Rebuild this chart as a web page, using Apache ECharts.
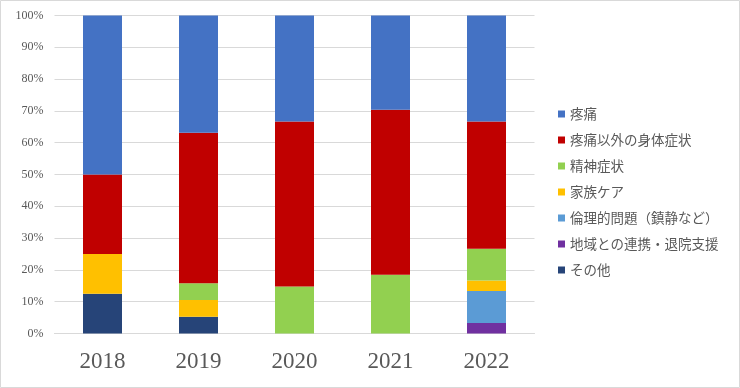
<!DOCTYPE html>
<html><head><meta charset="utf-8">
<script src="https://cdn.jsdelivr.net/npm/echarts@6/dist/echarts.min.js"></script>
<style>html,body{margin:0;padding:0;background:#fff}#c{width:740px;height:388px}</style>
</head><body><div id="c"></div>
<script>
const categories = ['2018','2019','2020','2021','2022'];
const seriesNames = ['疼痛','疼痛以外の身体症状','精神症状','家族ケア','倫理的問題（鎮静など）','地域との連携・退院支援','その他'];
// values in % (bottom of stack = その他)
const sonota   = [12.5, 5.26, 0, 0, 0];
const chiiki   = [0, 0, 0, 0, 3.33];
const rinri    = [0, 0, 0, 0, 10.0];
const kazoku   = [12.5, 5.26, 0, 0, 3.33];
const seishin  = [0, 5.26, 14.8, 18.5, 10.0];
const shintai  = [25.0, 47.37, 51.9, 51.9, 40.0];
const toutsuu  = [50.0, 36.85, 33.3, 29.6, 33.34];
const yTicks = [0,10,20,30,40,50,60,70,80,90,100];

const stackData = [
  ['その他', sonota, '#264478'],
  ['地域との連携・退院支援', chiiki, '#7030A0'],
  ['倫理的問題（鎮静など）', rinri, '#5B9BD5'],
  ['家族ケア', kazoku, '#FFC000'],
  ['精神症状', seishin, '#92D050'],
  ['疼痛以外の身体症状', shintai, '#C00000'],
  ['疼痛', toutsuu, '#4472C4']
];

const chart = echarts.init(document.getElementById('c'), null, {renderer:'canvas'});
chart.setOption({
  animation: false,
  graphic: [{type:'rect', shape:{x:0.5,y:0.5,width:739,height:387}, style:{fill:'none', stroke:'#d9d9d9', lineWidth:1}, silent:true}],
  grid: {left:54.5, right:205.5, top:15.5, bottom:54.5, containLabel:false},
  legend: {
    orient:'vertical', left:558, top:107, padding:0,
    data: seriesNames,
    icon:'rect', itemWidth:7, itemHeight:7, itemGap:12,
    textStyle:{fontSize:13.5, color:'#595959', lineHeight:14, fontFamily:'"Noto Sans CJK JP", sans-serif'}
  },
  xAxis: {
    type:'category', data: categories,
    axisLine:{lineStyle:{color:'#d9d9d9'}}, axisTick:{show:false},
    axisLabel:{fontSize:23, color:'#595959', fontFamily:'"Liberation Serif", serif', margin:17}
  },
  yAxis: {
    type:'value', min:0, max:100, interval:10,
    axisLabel:{formatter: v => yTicks.includes(v) ? v + '%' : '', fontSize:12, color:'#595959', fontFamily:'"Liberation Serif", serif', margin:11},
    splitLine:{lineStyle:{color:'#d9d9d9'}}, axisLine:{show:false}, axisTick:{show:false}
  },
  series: stackData.map(([name, data, color]) => ({
    name, type:'bar', stack:'s', data, barWidth:39,
    itemStyle:{color}
  }))
});
</script></body></html>
